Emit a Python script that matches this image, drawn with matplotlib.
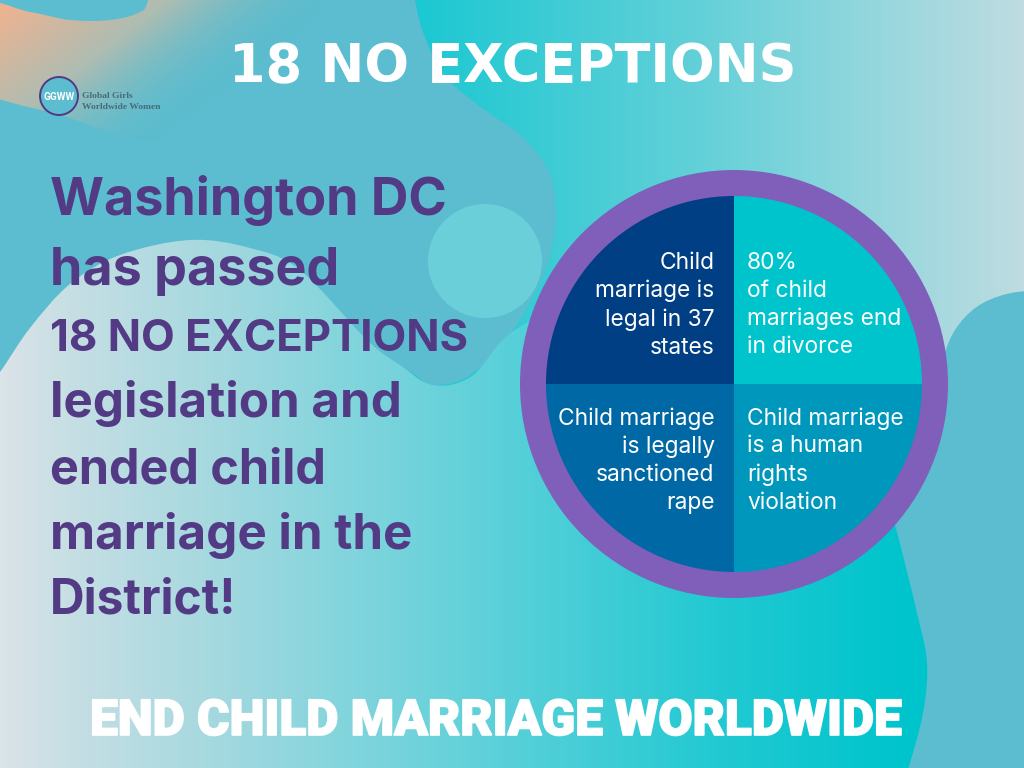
import numpy as np
import matplotlib.pyplot as plt
import matplotlib.patheffects as pe
from matplotlib.colors import LinearSegmentedColormap
from matplotlib.patches import Circle, PathPatch
from matplotlib.path import Path

# datos del grafico
labels = ['Child\nmarriage is\nlegal in 37\nstates', 'Child marriage\nis legally\nsanctioned\nrape',
          'Child marriage\nis a human\nrights\nviolation', '80%\nof child\nmarriages end\nin divorce']
values = [25, 25, 25, 25]
colors = ['#003F84', '#0069A5', '#0097BC', '#00C4CC']
title = '18 NO EXCEPTIONS'
footer = 'END CHILD MARRIAGE WORLDWIDE'
body_lines = ['Washington DC', 'has passed', '18 NO EXCEPTIONS', 'legislation and',
              'ended child', 'marriage in the', 'District!']
body_sizes = [37.5, 37.5, 31.5, 35.5, 35, 35.5, 34.5]
body_y = [215, 285, 351, 417, 483, 549, 613]

BASE = '#5BBDCF'
PURPLE = '#7F5FB9'
TEXT_PURPLE = '#533A84'


def blob(puntos):
    # curva cerrada suave que pasa por los puntos
    p = np.array(puntos, dtype=float)
    n = len(p)
    verts = [p[0]]
    codes = [Path.MOVETO]
    for i in range(n):
        p0, p1, p2, p3 = p[i - 1], p[i], p[(i + 1) % n], p[(i + 2) % n]
        verts += [p1 + (p2 - p0) / 6, p2 - (p3 - p1) / 6, p2]
        codes += [Path.CURVE4] * 3
    return Path(verts, codes)


def gradiente(ax, path, stops, z):
    cmap = LinearSegmentedColormap.from_list('g', stops)
    img = ax.imshow(np.linspace(0, 1, 512)[None, :], extent=(0, 1024, 768, 0), cmap=cmap,
                    aspect='auto', zorder=z)
    img.set_clip_path(PathPatch(path, transform=ax.transData))
    return img


fig = plt.figure(figsize=(10.24, 7.68), dpi=100)
ax = fig.add_axes([0, 0, 1, 1])
ax.set_xlim(0, 1024)
ax.set_ylim(768, 0)
ax.axis('off')
fig.patch.set_facecolor(BASE)

# fondo arriba a la derecha
top_right = Path([(380, -60), (1100, -60), (1100, 800), (380, 800), (380, -60)])
top_stops = [(0, '#1CC6D1'), (0.41, '#1CC8D2'), (0.68, '#62D0D8'), (1, '#BEDCE1')]
gradiente(ax, top_right, top_stops, 1)

# mancha base que tapa el fondo
mid = blob([(-40, -60), (408, -60), (415, 0), (426, 40), (447, 78), (482, 108), (520, 135), (548, 170), (556, 215),
            (545, 270), (512, 332), (472, 374), (433, 385), (380, 370), (200, 420), (-40, 400)])
ax.add_patch(PathPatch(mid, fc=BASE, ec='none', zorder=2))

right_blob = blob([(1120, 292), (1060, 292), (1017, 292), (983, 303), (960, 323), (945, 352), (925, 420), (880, 520),
                   (860, 810), (1120, 810)])
ax.add_patch(PathPatch(right_blob, fc=BASE, ec='none', zorder=2))

# naranja de la esquina
cmap_o = LinearSegmentedColormap.from_list('o', [(0.95, 0.70, 0.56, 1), (0.68, 0.74, 0.70, 1),
                                                 (0.36, 0.74, 0.81, 0)])
yy, xx = np.mgrid[0:200, 0:320]
ang = np.clip((xx + yy * 1.3) / 340, 0, 1)
orange = ax.imshow(ang, extent=(0, 320, 200, 0), cmap=cmap_o, aspect='auto', zorder=3)
orange.set_clip_path(PathPatch(blob([(-30, 3), (30, 12), (70, 20), (110, 20), (142, 11), (172, -15), (330, -15),
                                     (300, 80), (170, 140), (60, 115), (-30, 82)]),
                               transform=ax.transData))

# mancha de abajo a la izquierda
low = blob([(-40, 425), (0, 372), (30, 328), (70, 284), (120, 255), (190, 240), (250, 248), (300, 270), (367, 340),
            (400, 365), (433, 385), (472, 376), (515, 330), (600, 300), (800, 320), (880, 480), (895, 525),
            (917, 613), (927, 663), (923, 713), (908, 770), (890, 830), (400, 840), (-40, 830)])
low_stops = [(0, '#DAE3E8'), (0.06, '#C8DFE4'), (0.22, '#A2D8DF'), (0.49, '#5AD0D9'), (0.7, '#22C9D2'),
             (0.88, '#00C4CC'), (1, '#00C4CC')]
gradiente(ax, low, low_stops, 4)

ax.add_patch(Circle((485, 261), 57, fc='#6BCFD9', ec='none', zorder=5))

# titulo y pie
ax.text(513, 82, title, color='white', fontsize=37.8, fontweight='bold', family='DejaVu Sans',
        ha='center', va='baseline', zorder=10)
t = ax.text(497, 735, footer, color='white', fontsize=35.7, fontweight='black', family='Roboto',
            ha='center', va='baseline', zorder=10)
t.set_path_effects([pe.withStroke(linewidth=1.2, foreground='white')])

# texto de la izquierda
for linea, tam, y in zip(body_lines, body_sizes, body_y):
    ax.text(50, y, linea, color=TEXT_PURPLE, fontsize=tam, fontweight='bold', family='Inter',
            ha='left', va='baseline', zorder=10)

# logo
ax.add_patch(Circle((59, 96), 19, fc=BASE, ec=TEXT_PURPLE, lw=1.4, zorder=10))
ax.text(59, 96.5, 'GGWW', color='white', fontsize=7.2, fontweight='bold', family='Roboto',
        ha='center', va='center', zorder=11)
ax.text(82, 96, 'Global Girls', color='#4A6A78', fontsize=6.8, family='Liberation Serif', fontweight='bold',
        ha='left', va='center', zorder=11)
ax.text(82, 107, 'Worldwide Women', color='#4A6A78', fontsize=6.8, family='Liberation Serif', fontweight='bold',
        ha='left', va='center', zorder=11)

# circulo con los cuatro sectores
ax2 = fig.add_axes([520 / 1024, 1 - 598 / 768, 428 / 1024, 428 / 768])
ax2.set_aspect('equal')
ax2.add_patch(Circle((0, 0), 214, fc=PURPLE, ec='none'))
ax2.pie(values, colors=colors, startangle=90, counterclock=True, radius=188, center=(0, 0), frame=True,
        wedgeprops={'linewidth': 0})
ax2.set_xlim(-214, 214)
ax2.set_ylim(-214, 214)
ax2.axis('off')

pos = [(-19.5, 132, 'right'), (-19.5, -23, 'right'), (13, -23, 'left'), (13, 132, 'left')]
for lab, (x, y, ha) in zip(labels, pos):
    ax2.text(x, y, lab, color='white', fontsize=16.4, family='Inter', ha=ha, va='top', linespacing=1.34)

fig.savefig('out.png', dpi=100)
